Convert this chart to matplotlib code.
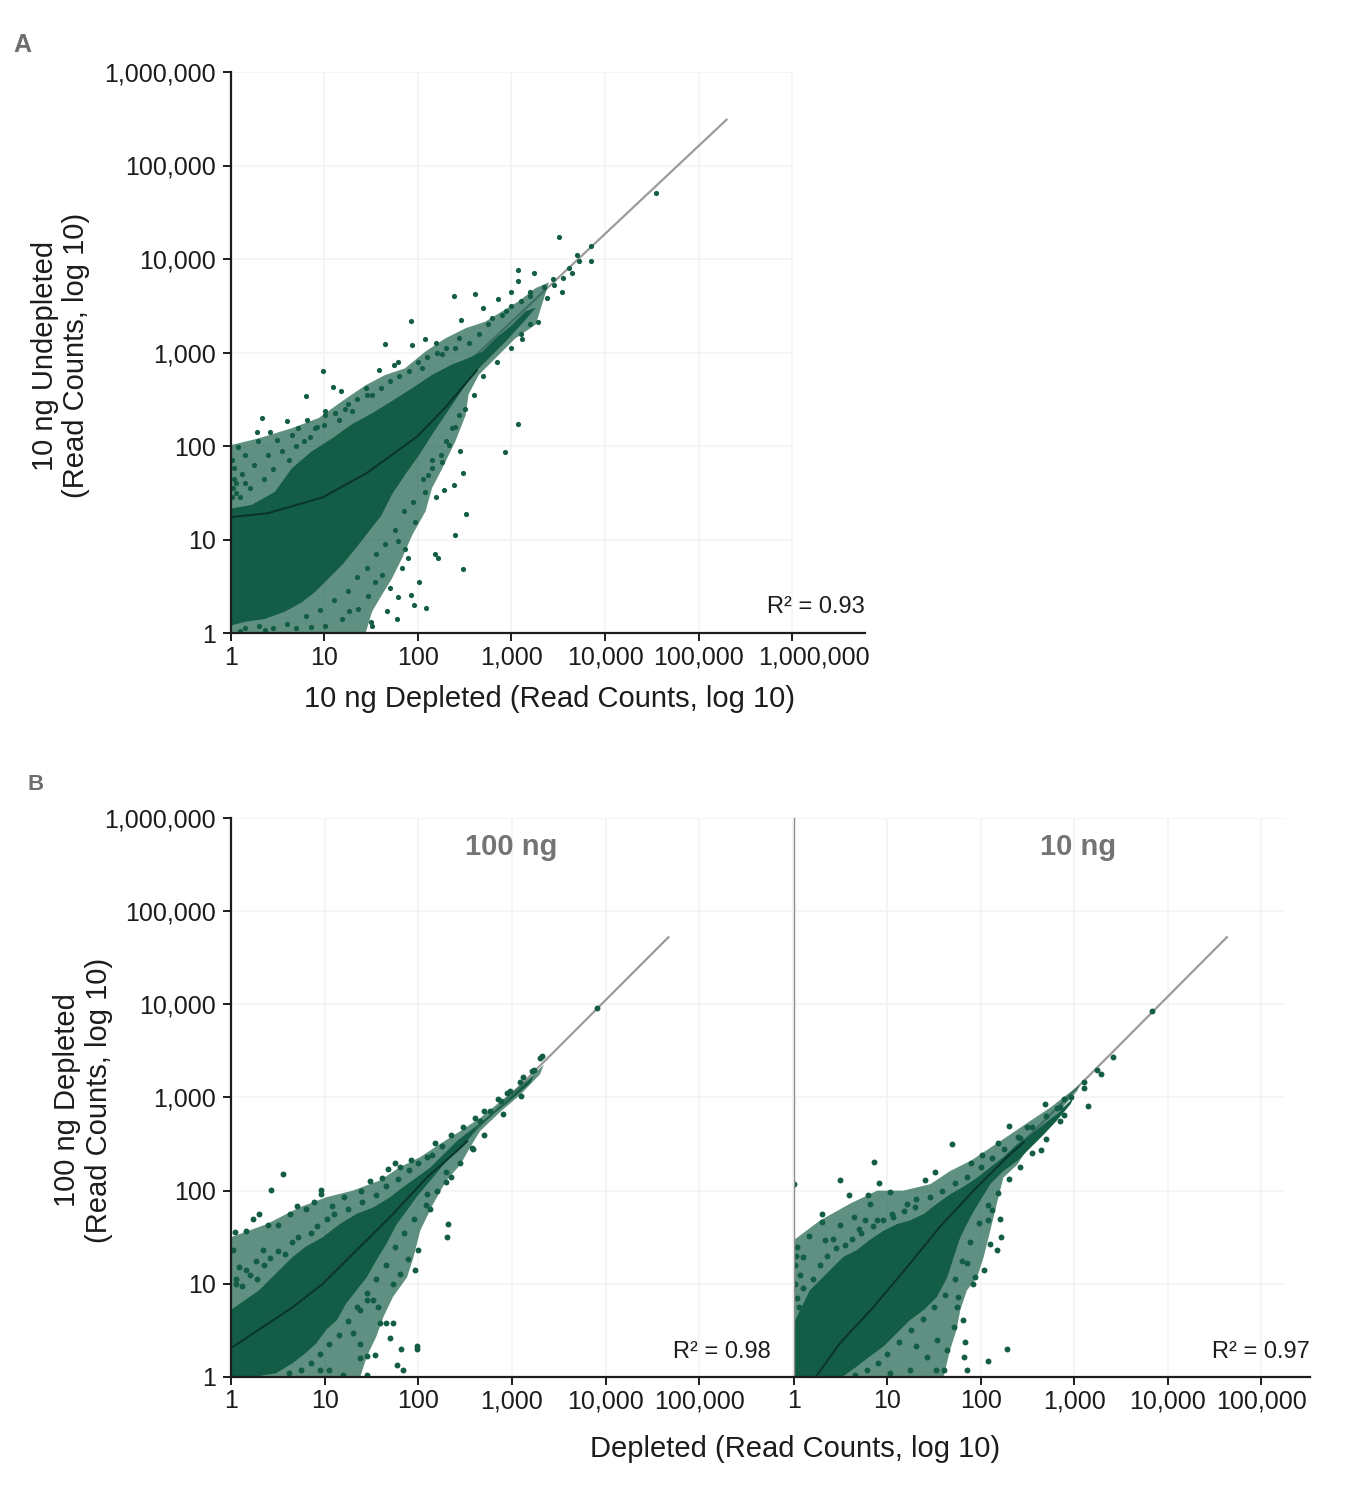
import numpy as np
import matplotlib
matplotlib.use('Agg')
import matplotlib.pyplot as plt
from matplotlib.transforms import ScaledTranslation

plt.rcParams['font.family'] = ['Liberation Sans', 'DejaVu Sans']

# all values are log10(read counts)
# --- panel A: 10 ng undepleted vs 10 ng depleted ---
# dense core outline
a_core_x = [0.00, 0.22, 0.47, 0.65, 0.86, 1.08, 1.29, 1.51, 1.72, 1.94, 2.15, 2.36, 2.54, 2.69,
            2.83, 3.01, 3.15, 3.26, 3.15, 2.94, 2.72, 2.58, 2.44, 2.29, 2.15, 2.01, 1.86, 1.72,
            1.61, 1.47, 1.33, 1.19, 1.04, 0.90, 0.76, 0.58, 0.36, 0.15, 0.00]
a_core_y = [1.33, 1.37, 1.51, 1.76, 1.94, 2.08, 2.23, 2.35, 2.48, 2.62, 2.76, 2.87, 2.94, 3.01,
            3.15, 3.30, 3.44, 3.48, 3.35, 3.12, 2.90, 2.76, 2.55, 2.33, 2.12, 1.90, 1.69, 1.48,
            1.26, 1.08, 0.90, 0.73, 0.58, 0.44, 0.33, 0.23, 0.15, 0.12, 0.08]
# outline of the speckled zone around it
a_halo_x = [0.00, 0.29, 0.65, 0.94, 1.19, 1.44, 1.65, 1.86, 2.08, 2.29, 2.51, 2.72, 2.90, 3.08,
            3.26, 3.40, 3.26, 3.04, 2.79, 2.65, 2.54, 2.51, 2.40, 2.26, 2.15, 2.08, 1.94, 1.83,
            1.72, 1.61, 1.51, 1.44, 0.00]
a_halo_y = [2.01, 2.08, 2.19, 2.30, 2.48, 2.65, 2.76, 2.83, 3.01, 3.15, 3.26, 3.33, 3.44, 3.55,
            3.69, 3.75, 3.30, 3.15, 2.90, 2.76, 2.55, 2.33, 2.05, 1.76, 1.55, 1.30, 1.05, 0.80,
            0.58, 0.40, 0.23, 0.00, 0.00]

a_pts_x = [0.33, 0.60, 0.81, 0.80, 0.98, 1.09, 1.18, 1.01, 1.11, 0.28, 0.42, 0.49, 0.08, 0.15,
           0.03, 0.29, 0.65, 0.72, 0.90, 1.65, 1.58, 1.92, 1.74, 1.79, 2.08, 2.19, 2.39, 2.46,
           2.61, 2.70, 2.86, 3.00, 3.07, 3.07, 3.24, 3.44, 3.51, 3.70, 3.85, 3.85, 3.54, 3.28,
           3.11, 3.72, 3.38, 3.20, 3.61, 2.79, 2.94, 2.44, 2.26, 1.94, 2.04, 1.44, 1.51, 1.29,
           1.22, 1.01, 4.55,
           3.07, 2.93, 2.45, 2.48, 2.39, 2.51, 2.40, 2.48, 2.18, 2.21, 2.09, 1.96, 1.92, 1.79,
           1.67, 1.70, 1.78, 1.51, 1.50, 2.08, 2.19, 2.28, 2.11, 1.97, 1.89, 2.01, 1.86, 1.79,
           1.61, 1.54, 1.36, 1.19, 1.26, 1.01, 0.86, 0.69, 0.36, 0.15, 1.83, 1.47, 2.26, 2.33,
           2.15, 2.36, 2.44,
           0.05, 0.12, 0.20, 0.25, 0.35, 0.40, 0.45, 0.55, 0.62, 0.70, 0.78, 0.85, 0.92, 1.00,
           1.15, 1.25, 1.35, 1.45, 1.60, 1.70, 1.80, 1.90, 2.00, 2.10, 2.20, 2.30, 2.40, 2.55,
           2.65, 2.75, 2.90, 3.00, 3.10, 3.20, 3.35, 3.45, 3.55, 3.65,
           3.20, 3.10, 3.00, 2.85, 2.70, 2.60, 2.50, 2.40, 2.30, 2.25, 2.15, 2.05, 1.95, 1.85,
           1.75, 1.65, 1.55, 1.45, 1.35, 1.25, 1.10, 0.95, 0.80, 0.60, 0.45, 0.30, 0.10,
           0.01, 0.02, 0.03, 0.01, 0.05, 0.10, 0.15]
a_pts_y = [2.30, 2.27, 2.28, 2.53, 2.80, 2.63, 2.59, 2.37, 2.35, 2.15, 2.15, 2.06, 1.99, 1.90,
           1.76, 2.05, 2.12, 2.19, 2.19, 3.09, 2.81, 3.34, 2.87, 2.90, 3.14, 3.10, 3.60, 3.35,
           3.63, 3.48, 3.57, 3.65, 3.88, 3.76, 3.85, 3.79, 4.24, 4.04, 4.14, 3.98, 3.65, 3.33,
           3.14, 3.98, 3.58, 3.65, 3.90, 3.37, 3.44, 3.15, 2.98, 3.08, 2.83, 2.62, 2.55, 2.37,
           2.40, 2.33, 4.71,
           2.23, 1.94, 1.95, 1.71, 1.58, 1.27, 1.05, 0.68, 0.84, 0.80, 0.27, 0.30, 0.41, 0.38,
           0.23, 0.48, 0.15, 0.07, 0.12, 1.51, 1.45, 1.53, 1.69, 1.19, 0.80, 0.55, 0.90, 0.98,
           0.62, 0.55, 0.26, 0.15, 0.23, 0.08, 0.06, 0.05, 0.03, 0.05, 0.69, 0.40, 1.83, 2.01,
           1.76, 2.19, 2.33,
           1.60, 1.70, 1.55, 1.80, 1.65, 1.90, 1.75, 1.95, 1.85, 2.00, 2.05, 2.10, 2.20, 2.22,
           2.28, 2.45, 2.50, 2.55, 2.62, 2.70, 2.75, 2.80, 2.90, 2.95, 3.00, 3.05, 3.05, 3.10,
           3.20, 3.30, 3.40, 3.50, 3.55, 3.60, 3.70, 3.72, 3.80, 3.85,
           3.30, 3.20, 3.05, 2.90, 2.75, 2.55, 2.40, 2.20, 2.05, 1.90, 1.85, 1.65, 1.40, 1.30,
           1.10, 0.95, 0.85, 0.70, 0.60, 0.45, 0.35, 0.25, 0.18, 0.10, 0.05, 0.08, 0.02,
           1.45, 1.55, 1.65, 1.85, 1.50, 1.45, 1.60]

a_fit_x = [0.00, 0.39, 0.98, 1.45, 1.99, 2.30, 2.63]
a_fit_y = [1.24, 1.28, 1.45, 1.71, 2.10, 2.42, 2.81]
a_line_x = [0.00, 5.30]
a_line_y = [0.51, 5.49]
a_r2 = 'R\u00b2 = 0.93'

# --- panel B, 100 ng: 100 ng depleted vs depleted ---
b1_core_x = [0.00, 0.30, 0.52, 0.66, 0.80, 0.98, 1.16, 1.34, 1.52, 1.70, 1.84, 1.98, 2.13, 2.27,
             2.41, 2.55, 2.73, 2.91, 3.05, 3.16, 3.23, 3.20, 3.02, 2.80, 2.63, 2.52, 2.41, 2.27,
             2.13, 1.98, 1.88, 1.77, 1.66, 1.55, 1.45, 1.34, 1.23, 1.13, 1.02, 0.91, 0.80, 0.66,
             0.48, 0.30, 0.00]
b1_core_y = [0.72, 0.93, 1.15, 1.29, 1.40, 1.50, 1.64, 1.75, 1.82, 1.93, 2.04, 2.14, 2.25, 2.39,
             2.53, 2.64, 2.78, 2.93, 3.07, 3.17, 3.23, 3.16, 3.00, 2.82, 2.68, 2.53, 2.43, 2.28,
             2.11, 1.93, 1.79, 1.64, 1.43, 1.25, 1.07, 0.93, 0.79, 0.61, 0.51, 0.36, 0.26, 0.15,
             0.04, 0.01, 0.01]
b1_halo_x = [0.00, 0.38, 0.73, 1.02, 1.30, 1.59, 1.80, 2.02, 2.23, 2.45, 2.66, 2.88, 3.05, 3.23,
             3.34, 3.30, 3.09, 2.88, 2.66, 2.55, 2.45, 2.30, 2.16, 2.02, 1.95, 1.88, 1.73, 1.63,
             1.55, 1.45, 1.38, 0.00]
b1_halo_y = [1.50, 1.64, 1.82, 1.93, 2.00, 2.11, 2.25, 2.36, 2.50, 2.64, 2.78, 2.96, 3.10, 3.25,
             3.35, 3.25, 3.03, 2.85, 2.64, 2.46, 2.28, 2.11, 1.86, 1.57, 1.29, 1.07, 0.86, 0.65,
             0.43, 0.22, 0.00, 0.00]

b1_pts_x = [0.55, 0.43, 0.30, 0.23, 0.04, 0.02, 0.16, 0.39, 0.50, 0.63, 0.71, 0.80, 0.89, 0.96,
            0.96, 1.08, 1.21, 1.39, 1.48, 1.61, 1.75, 1.92, 2.18, 1.80, 1.68, 2.09, 3.30, 3.21,
            3.09, 2.98, 2.88, 2.77, 2.66, 2.57, 2.45, 2.30, 2.30, 2.32, 2.31, 2.13, 2.09, 2.00,
            1.96, 1.89, 1.80, 1.73, 1.57, 1.52, 1.59, 1.66, 1.73, 1.70, 1.82, 1.99, 1.99, 1.54,
            1.45, 1.38, 1.38, 1.77, 1.84, 1.45, 1.20, 1.05, 0.95, 1.30, 1.38, 1.45, 0.09, 0.16,
            0.27, 0.34, 0.05, 3.91, 3.32, 3.23,
            0.05, 0.12, 0.20, 0.28, 0.35, 0.42, 0.50, 0.58, 0.65, 0.72, 0.85, 0.92, 1.02, 1.10,
            1.25, 1.40, 1.55, 1.65, 1.78, 1.90, 2.00, 2.15, 2.25, 2.35, 2.48, 2.60, 2.70, 2.85,
            2.95, 3.12,
            3.10, 2.90, 2.70, 2.58, 2.45, 2.35, 2.20, 2.08, 1.95, 1.85, 1.75, 1.65, 1.55, 1.45,
            1.35, 1.25, 1.15, 1.05, 0.95, 0.85, 0.75, 0.62]
b1_pts_y = [2.18, 2.01, 1.75, 1.70, 1.56, 1.36, 1.57, 1.63, 1.63, 1.75, 1.83, 1.80, 1.88, 2.01,
            1.96, 1.84, 1.93, 2.00, 2.10, 2.14, 2.30, 2.33, 2.51, 2.25, 2.23, 2.36, 3.42, 3.28,
            3.17, 3.07, 2.96, 2.85, 2.75, 2.46, 2.50, 2.20, 2.09, 1.64, 1.50, 1.80, 1.96, 1.36,
            1.15, 1.27, 1.11, 1.00, 0.75, 0.83, 0.58, 0.58, 0.58, 0.42, 0.30, 0.33, 0.30, 0.24,
            0.23, 0.20, 0.35, 0.13, 0.08, 0.02, 0.02, 0.08, 0.08, 0.47, 0.72, 0.83, 1.18, 1.15,
            1.25, 1.36, 1.00, 3.96, 3.45, 3.30,
            1.05, 0.98, 1.10, 1.05, 1.20, 1.28, 1.35, 1.32, 1.45, 1.50, 1.55, 1.62, 1.70, 1.75,
            1.80, 1.88, 1.95, 2.05, 2.12, 2.22, 2.30, 2.38, 2.48, 2.60, 2.68, 2.78, 2.85, 2.98,
            3.05, 3.22,
            3.02, 2.82, 2.60, 2.45, 2.30, 2.15, 2.00, 1.85, 1.70, 1.55, 1.40, 1.20, 1.05, 0.90,
            0.75, 0.60, 0.45, 0.35, 0.25, 0.15, 0.08, 0.04]

b1_fit_x = [0.00, 0.30, 0.66, 0.98, 1.38, 1.73, 2.09, 2.45, 2.52]
b1_fit_y = [0.31, 0.51, 0.75, 1.00, 1.40, 1.75, 2.14, 2.46, 2.53]
b1_line_x = [0.00, 4.67]
b1_line_y = [0.02, 4.72]
b1_r2 = 'R\u00b2 = 0.98'

# --- panel B, 10 ng ---
b2_core_x = [0.00, 0.17, 0.39, 0.53, 0.67, 0.81, 0.96, 1.10, 1.24, 1.39, 1.53, 1.67, 1.81, 1.96,
             2.10, 2.24, 2.39, 2.53, 2.67, 2.81, 2.92, 2.99, 2.96, 2.81, 2.67, 2.53, 2.39, 2.24,
             2.10, 1.99, 1.89, 1.78, 1.71, 1.64, 1.53, 1.39, 1.24, 1.10, 0.96, 0.81, 0.67, 0.53,
             0.00]
b2_core_y = [0.58, 0.93, 1.15, 1.29, 1.36, 1.47, 1.57, 1.64, 1.68, 1.75, 1.86, 1.96, 2.04, 2.14,
             2.25, 2.36, 2.50, 2.60, 2.71, 2.82, 2.93, 3.00, 2.93, 2.75, 2.60, 2.46, 2.32, 2.21,
             2.07, 1.89, 1.72, 1.50, 1.29, 1.07, 0.86, 0.72, 0.61, 0.47, 0.33, 0.22, 0.11, 0.01,
             0.01]
b2_halo_x = [0.00, 0.28, 0.60, 0.89, 1.17, 1.46, 1.67, 1.89, 2.10, 2.31, 2.53, 2.74, 2.92, 3.06,
             3.03, 2.81, 2.67, 2.53, 2.39, 2.24, 2.17, 2.10, 2.03, 1.96, 1.85, 1.78, 1.74, 1.67,
             1.60, 0.00]
b2_halo_y = [1.47, 1.68, 1.86, 2.00, 2.00, 2.07, 2.21, 2.32, 2.46, 2.60, 2.75, 2.89, 3.03, 3.14,
             3.07, 2.82, 2.64, 2.50, 2.28, 2.14, 1.86, 1.57, 1.29, 1.07, 0.93, 0.72, 0.51, 0.29,
             0.00, 0.00]

b2_pts_x = [3.83, 3.41, 3.24, 3.28, 3.10, 3.10, 3.15, 2.96, 2.89, 2.69, 2.89, 2.81, 2.30, 2.64,
            2.49, 2.42, 1.69, 2.18, 2.01, 1.89, 1.51, 1.40, 0.86, 0.49, 0.91, 1.03, 0.59, 0.79,
            0.81, 1.21, 1.31, 0.64, 0.30, 0.30, 0.49, 0.70, 0.76, 0.89, 1.06, 0.16, 0.33, 0.42,
            0.03, 0.10, 0.00, 2.20, 2.21, 2.17, 2.10, 2.08, 2.12, 2.03, 1.94, 1.92, 1.85, 1.76,
            1.74, 1.81, 1.83, 1.82, 2.08, 2.28, 1.85, 1.64, 1.53, 1.60, 1.52, 1.42, 1.31, 1.24,
            1.03, 1.71,
            0.05, 0.10, 0.20, 0.28, 0.35, 0.45, 0.55, 0.62, 0.72, 0.85, 0.95, 1.05, 1.18, 1.30,
            1.45, 1.58, 1.72, 1.85, 2.00, 2.12, 2.25, 2.40, 2.55, 2.70, 2.85,
            2.85, 2.70, 2.55, 2.42, 2.30, 2.18, 2.08, 1.98, 1.88, 1.80, 1.72, 1.62, 1.50, 1.38,
            1.25, 1.12, 1.00, 0.90, 0.78, 0.65,
            0.01, 0.02, 0.01, 0.03, 0.06]
b2_pts_y = [3.93, 3.43, 3.30, 3.25, 3.17, 3.10, 2.91, 3.01, 2.98, 2.93, 2.81, 2.89, 2.69, 2.44,
            2.68, 2.57, 2.50, 2.51, 2.38, 2.30, 2.20, 2.11, 2.31, 2.11, 2.08, 1.99, 1.95, 1.95,
            1.86, 1.86, 1.91, 1.72, 1.75, 1.66, 1.63, 1.59, 1.68, 1.68, 1.72, 1.51, 1.47, 1.48,
            1.40, 1.29, 2.07, 1.70, 1.50, 1.36, 1.43, 1.68, 1.79, 1.15, 1.07, 1.00, 1.22, 0.86,
            0.75, 0.61, 0.38, 0.21, 0.17, 0.30, 0.08, 0.29, 0.40, 0.08, 0.08, 0.22, 0.33, 0.08,
            0.04, 0.54,
            0.75, 0.95, 1.05, 1.20, 1.30, 1.38, 1.42, 1.48, 1.55, 1.62, 1.68, 1.75, 1.78, 1.82,
            1.93, 2.00, 2.08, 2.15, 2.25, 2.35, 2.45, 2.58, 2.68, 2.80, 2.90,
            2.75, 2.55, 2.40, 2.25, 2.12, 1.98, 1.85, 1.65, 1.45, 1.25, 1.05, 0.88, 0.75, 0.62,
            0.50, 0.38, 0.25, 0.15, 0.07, 0.02,
            1.20, 1.30, 1.00, 0.85, 1.10]

b2_fit_x = [0.24, 0.49, 0.85, 1.21, 1.56, 1.92, 2.28, 2.46]
b2_fit_y = [0.01, 0.36, 0.75, 1.18, 1.61, 2.00, 2.36, 2.52]
b2_line_x = [0.00, 4.63]
b2_line_y = [0.05, 4.72]
b2_r2 = 'R\u00b2 = 0.97'

decades = [1, 10, 100, 1000, 10000, 100000, 1000000]
tick_labels = ['1', '10', '100', '1,000', '10,000', '100,000', '1,000,000']

GREEN = '#135c46'
FIT = '#0b3428'
LINE = '#9b9b9b'
GRID = '#f3f3f3'
INK = '#1c1c1c'


def lg(v):
    return 10 ** np.asarray(v, dtype=float)


def draw_cloud(ax, halo_x, halo_y, core_x, core_y, pts_x, pts_y, fit_x, fit_y, line_x, line_y,
               dot=14):
    ax.plot(lg(line_x), lg(line_y), color=LINE, lw=1.6, zorder=1.5)
    ax.fill(lg(halo_x), lg(halo_y), color=GREEN, alpha=0.68, lw=0, zorder=1.8)
    ax.fill(lg(core_x), lg(core_y), color=GREEN, lw=0, zorder=2)
    ax.scatter(lg(pts_x), lg(pts_y), s=dot, color=GREEN, linewidths=0, zorder=2.1)
    ax.plot(lg(fit_x), lg(fit_y), color=FIT, lw=1.4, zorder=3)


def style(ax, xmax, xt, grid_xmax, yticks=True):
    ax.set_xscale('log')
    ax.set_yscale('log')
    ax.set_xlim(1, xmax)
    ax.set_ylim(1, 1e6)
    for v in decades:
        ax.hlines(v, 1, grid_xmax, color=GRID, lw=1.2, zorder=0)
    for v in decades:
        if v <= grid_xmax:
            ax.vlines(v, 1, 1e6, color=GRID, lw=1.2, zorder=0)
    ax.set_xticks(xt)
    ax.set_xticklabels(tick_labels[:len(xt)])
    ax.minorticks_off()
    for s in ['top', 'right']:
        ax.spines[s].set_visible(False)
    ax.spines['bottom'].set_color(INK)
    ax.spines['bottom'].set_linewidth(1.6)
    ax.tick_params(axis='x', length=6, width=1.4, color=INK, labelsize=18,
                   labelcolor=INK, pad=3)
    if yticks:
        ax.set_yticks(decades)
        ax.set_yticklabels(tick_labels)
        ax.spines['left'].set_color(INK)
        ax.spines['left'].set_linewidth(1.6)
        ax.tick_params(axis='y', length=6, width=1.4, color=INK, labelsize=18,
                       labelcolor=INK, pad=5)
    else:
        ax.set_yticks([])
        ax.spines['left'].set_color('#8c8c8c')
        ax.spines['left'].set_linewidth(1.0)


fig = plt.figure(figsize=(13.5, 15), dpi=100)

# panel A
axA = fig.add_axes([0.1711, 0.578, 0.4696, 0.374])
draw_cloud(axA, a_halo_x, a_halo_y, a_core_x, a_core_y, a_pts_x, a_pts_y,
           a_fit_x, a_fit_y, a_line_x, a_line_y)
style(axA, 10 ** 6.78, decades, 1e6)
# last label sits right of its tick so it clears 100,000
last = axA.get_xticklabels()[-1]
last.set_transform(last.get_transform() + ScaledTranslation(0.22, 0, fig.dpi_scale_trans))
axA.text(1.0, 0.046, a_r2, transform=axA.transAxes, ha='right', va='center',
         fontsize=17, color=INK)

# panel B, left and right
axB1 = fig.add_axes([0.1711, 0.082, 0.4163, 0.3727])
draw_cloud(axB1, b1_halo_x, b1_halo_y, b1_core_x, b1_core_y, b1_pts_x, b1_pts_y,
           b1_fit_x, b1_fit_y, b1_line_x, b1_line_y, dot=18)
style(axB1, 1e6, decades[:6], 1e6)

axB2 = fig.add_axes([0.5881, 0.082, 0.3823, 0.3727])
draw_cloud(axB2, b2_halo_x, b2_halo_y, b2_core_x, b2_core_y, b2_pts_x, b2_pts_y,
           b2_fit_x, b2_fit_y, b2_line_x, b2_line_y, dot=18)
style(axB2, 10 ** 5.52, decades[:6], 10 ** 5.25, yticks=False)

fig.text(0.5711, 0.0987, b1_r2, ha='right', va='center', fontsize=17, color=INK)
fig.text(0.9704, 0.0987, b2_r2, ha='right', va='center', fontsize=17, color=INK)
fig.text(0.3785, 0.4353, '100 ng', ha='center', va='center', fontsize=21,
         fontweight='bold', color='#747474')
fig.text(0.7985, 0.4353, '10 ng', ha='center', va='center', fontsize=21,
         fontweight='bold', color='#747474')

# axis labels
fig.text(0.4074, 0.534, '10 ng Depleted (Read Counts, log 10)', ha='center', va='center',
         fontsize=21, color=INK)
fig.text(0.045, 0.763, '10 ng Undepleted\n(Read Counts, log 10)', ha='center', va='center',
         rotation=90, fontsize=21, color=INK, linespacing=1.15, multialignment='center')
fig.text(0.5889, 0.034, 'Depleted (Read Counts, log 10)', ha='center', va='center',
         fontsize=21, color=INK)
fig.text(0.0615, 0.2667, '100 ng Depleted\n(Read Counts, log 10)', ha='center', va='center',
         rotation=90, fontsize=21, color=INK, linespacing=1.15, multialignment='center')

# panel letters
fig.text(0.0163, 0.970, 'A', ha='center', va='center', fontsize=18, fontweight='bold',
         color='#6e6e6e')
fig.text(0.026, 0.4767, 'B', ha='center', va='center', fontsize=16, fontweight='bold',
         color='#6e6e6e')

fig.savefig('out.png', dpi=100)
